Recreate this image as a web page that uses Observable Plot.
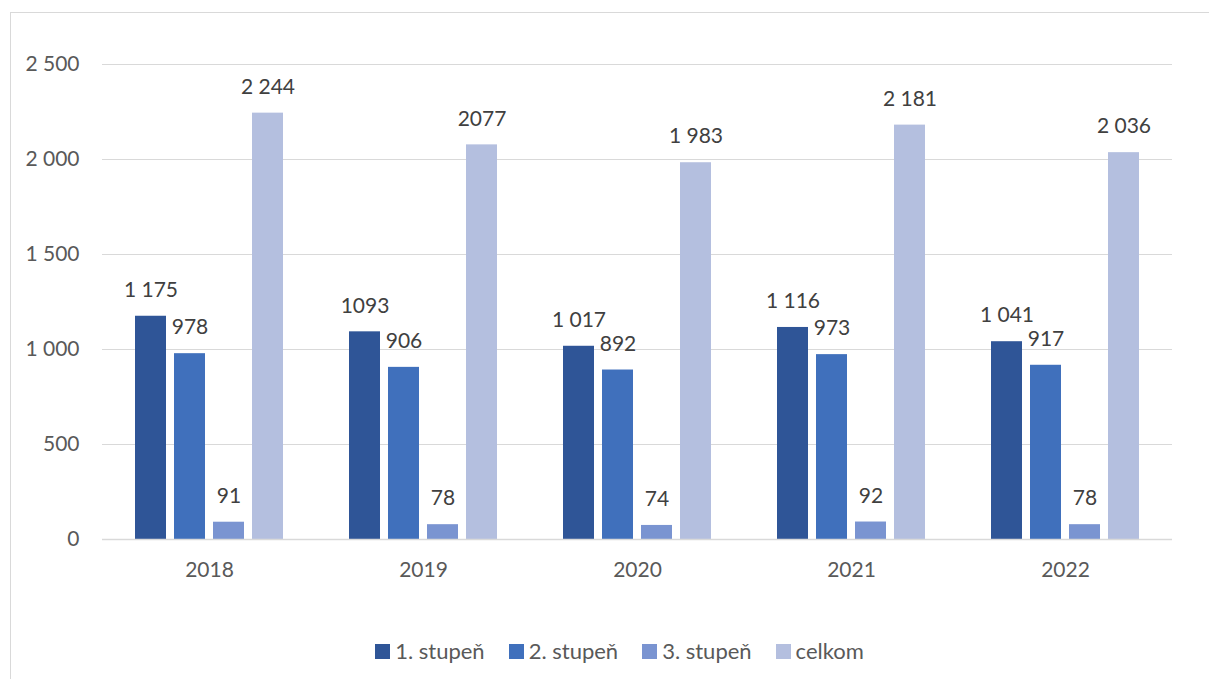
<!DOCTYPE html>
<html>
<head>
<meta charset="utf-8">
<script src="https://cdn.jsdelivr.net/npm/d3@7"></script>
<script src="https://cdn.jsdelivr.net/npm/@observablehq/plot@0.6"></script>
<style>
  html, body { margin: 0; padding: 0; background: #fff; overflow: hidden; }
  body { font-family: Lato, "Open Sans", sans-serif; position: relative; width: 1209px; height: 679px; }
  #frame { position: absolute; left: 10px; top: 12px; width: 1230px; height: 720px; border: 1.5px solid #d9d9d9; box-sizing: border-box; pointer-events: none; }
  #chart { position: absolute; left: 0; top: 0; }
  #legend { position: absolute; left: 0; top: 639px; width: 1209px; display: flex; justify-content: center; padding-left: 30px; box-sizing: border-box; gap: 24px; font-size: 22px; color: #595959; }
  .item { display: flex; align-items: center; gap: 5px; line-height: 24px; }
  .sw { width: 15px; height: 15px; display: inline-block; }
</style>
</head>
<body>
<div id="frame"></div>
<div id="chart"></div>
<div id="legend"></div>
<script>
const years = ["2018", "2019", "2020", "2021", "2022"];
const series = ["1. stupeň", "2. stupeň", "3. stupeň", "celkom"];
const colors = ["#2F5597", "#4070BC", "#7A94D1", "#B4BFDF"];
const stupen1 = [1175, 1093, 1017, 1116, 1041];
const stupen2 = [978, 906, 892, 973, 917];
const stupen3 = [91, 78, 74, 92, 78];
const celkom = [2244, 2077, 1983, 2181, 2036];
const labels1 = ["1 175", "1093", "1 017", "1 116", "1 041"];
const labels2 = ["978", "906", "892", "973", "917"];
const labels3 = ["91", "78", "74", "92", "78"];
const labels4 = ["2 244", "2077", "1 983", "2 181", "2 036"];
const yTicks = [0, 500, 1000, 1500, 2000, 2500];

const values = [stupen1, stupen2, stupen3, celkom];
const labelSets = [labels1, labels2, labels3, labels4];
const data = [];
years.forEach((yr, i) => {
  series.forEach((s, j) => {
    data.push({year: yr, series: s, value: values[j][i], label: labelSets[j][i]});
  });
});

const fmt = d => d3.format(",")(d).replace(/,/g, " ");

const chart = Plot.plot({
  width: 1209,
  height: 600,
  marginLeft: 100,
  marginRight: 35,
  marginTop: 64,
  marginBottom: 61,
  style: {fontFamily: "Lato, 'Open Sans', sans-serif", fontSize: "21px", color: "#595959", background: "transparent"},
  fx: {domain: years, padding: 0, label: null, tickSize: 0, tickPadding: 23, axis: "bottom"},
  x: {domain: series, paddingInner: 0.2, paddingOuter: 0.84, axis: null},
  y: {domain: [0, 2500], ticks: yTicks, tickFormat: fmt, tickSize: 0, tickPadding: 23, label: null},
  color: {domain: series, range: colors},
  marks: [
    Plot.ruleY(yTicks.filter(d => d > 0), {stroke: "#d9d9d9", strokeWidth: 1.2}),
    Plot.barY(data, {fx: "year", x: "series", y: "value", fill: "series"}),
    Plot.ruleY([0], {stroke: "#d9d9d9", strokeWidth: 1.5}),
    Plot.text(data, {fx: "year", x: "series", y: "value", text: "label", dy: -26, fill: "#404040", fontSize: 21})
  ]
});
document.getElementById("chart").appendChild(chart);

const legend = document.getElementById("legend");
series.forEach((s, j) => {
  const it = document.createElement("div");
  it.className = "item";
  const sw = document.createElement("span");
  sw.className = "sw";
  sw.style.background = colors[j];
  const t = document.createElement("span");
  t.textContent = s;
  it.appendChild(sw);
  it.appendChild(t);
  legend.appendChild(it);
});
</script>
</body>
</html>
